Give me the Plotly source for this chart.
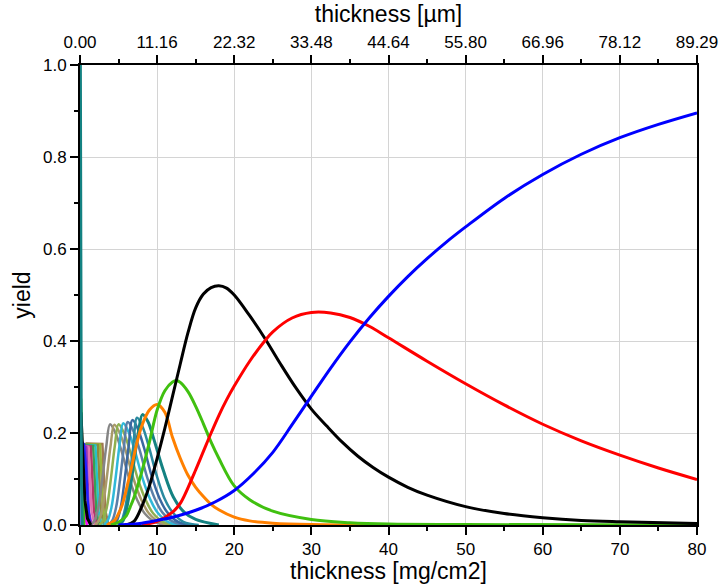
import plotly.graph_objects as go

# ---------------- data ----------------
BOTTOM_TICKS = [0, 10, 20, 30, 40, 50, 60, 70, 80]
TOP_TICK_LABELS = ["0.00", "11.16", "22.32", "33.48", "44.64", "55.80", "66.96", "78.12", "89.29"]
Y_TICKS = [0.0, 0.2, 0.4, 0.6, 0.8, 1.0]

BLUE_X = [5, 8, 10, 12, 15, 17.5, 20, 22.5, 25, 27.5, 30, 32.5, 35, 37.5, 40, 42.5, 45, 47.5, 50, 55, 60, 65, 70, 75, 80]
BLUE_Y = [0.0, 0.004, 0.01, 0.017, 0.032, 0.05, 0.075, 0.112, 0.158, 0.218, 0.28, 0.341, 0.398, 0.45, 0.497, 0.54, 0.579, 0.615, 0.648, 0.71, 0.762, 0.806, 0.842, 0.871, 0.896]

RED_X = [8, 10, 12, 13, 15, 16, 17, 18, 19, 20, 22, 24, 25, 27.5, 30, 32.5, 35, 37.5, 40, 45, 50, 55, 60, 65, 70, 75, 80]
RED_Y = [0.0, 0.008, 0.028, 0.047, 0.12, 0.16, 0.2, 0.238, 0.272, 0.302, 0.356, 0.401, 0.42, 0.45, 0.462, 0.461, 0.451, 0.432, 0.407, 0.356, 0.307, 0.261, 0.219, 0.183, 0.152, 0.124, 0.099]

BLACK_X = [6, 7, 8, 9, 10, 11, 12, 13, 14, 15, 16, 17, 18, 19, 20, 22, 24, 26, 28, 30, 32, 34, 36, 38, 40, 42.5, 45, 50, 55, 60, 65, 70, 80]
BLACK_Y = [0.0, 0.008, 0.04, 0.085, 0.145, 0.21, 0.28, 0.35, 0.418, 0.472, 0.502, 0.516, 0.52, 0.515, 0.5, 0.455, 0.405, 0.35, 0.298, 0.252, 0.215, 0.18, 0.15, 0.125, 0.104, 0.082, 0.065, 0.04, 0.025, 0.016, 0.01, 0.007, 0.003]

GREEN_X = [4, 5, 6, 6.5, 7, 8, 9, 10, 11, 12, 12.5, 13, 14, 15, 16, 17, 18, 20, 22, 25, 30, 35, 40, 50, 80]
GREEN_Y = [0.0, 0.006, 0.02, 0.039, 0.06, 0.115, 0.18, 0.25, 0.292, 0.311, 0.314, 0.31, 0.29, 0.258, 0.22, 0.18, 0.145, 0.085, 0.055, 0.03, 0.012, 0.005, 0.002, 0.001, 0.0]

ORANGE_X = [3.5, 4.5, 5, 5.5, 6.5, 7.36, 8, 9, 10, 11, 12, 13, 14, 15, 16, 17, 18, 20, 22, 25, 30, 40]
ORANGE_Y = [0.0, 0.01, 0.025, 0.045, 0.112, 0.177, 0.215, 0.25, 0.262, 0.245, 0.19, 0.145, 0.108, 0.082, 0.062, 0.045, 0.033, 0.017, 0.009, 0.004, 0.001, 0.0]

TEAL_X = [5.0, 5.6, 6.1, 6.6, 7.1, 7.6, 8.1, 8.8, 9.6, 10.8, 12.1, 13.5, 15.0, 18.0]
TEAL_Y = [0.0, 0.01, 0.04, 0.09, 0.15, 0.205, 0.24, 0.225, 0.185, 0.119, 0.061, 0.028, 0.012, 0.0]

# cluster of small peaks (left to right)
C1_X = [1.4, 1.9, 2.4, 2.9, 3.4, 3.9, 4.6, 5.4, 6.4, 7.4, 8.4, 9.9, 11.9]
C1_Y = [0.0, 0.01, 0.04, 0.10, 0.17, 0.219, 0.2, 0.16, 0.10, 0.055, 0.025, 0.005, 0.0]
C2_X = [1.95, 2.45, 2.95, 3.45, 3.95, 4.45, 5.15, 5.95, 6.95, 7.95, 8.95, 10.45, 12.45]
C2_Y = [0.0, 0.01, 0.04, 0.10, 0.17, 0.218, 0.2, 0.16, 0.10, 0.055, 0.025, 0.005, 0.0]
C3_X = [2.5, 3.0, 3.5, 4.0, 4.5, 5.0, 5.7, 6.5, 7.5, 8.5, 9.5, 11.0, 13.0]
C3_Y = [0.0, 0.01, 0.04, 0.10, 0.17, 0.219, 0.2, 0.16, 0.10, 0.055, 0.025, 0.005, 0.0]
C4_X = [3.1, 3.6, 4.1, 4.6, 5.1, 5.6, 6.3, 7.1, 8.1, 9.1, 10.1, 11.6, 13.6]
C4_Y = [0.0, 0.01, 0.04, 0.10, 0.17, 0.221, 0.202, 0.162, 0.102, 0.056, 0.026, 0.005, 0.0]
C5_X = [3.7, 4.2, 4.7, 5.2, 5.7, 6.2, 6.9, 7.7, 8.7, 9.7, 10.7, 12.2, 14.2]
C5_Y = [0.0, 0.01, 0.04, 0.10, 0.17, 0.224, 0.205, 0.165, 0.104, 0.057, 0.027, 0.006, 0.0]
C6_X = [4.3, 4.8, 5.3, 5.8, 6.3, 6.8, 7.5, 8.3, 9.3, 10.3, 11.3, 12.8, 14.8]
C6_Y = [0.0, 0.01, 0.04, 0.10, 0.17, 0.228, 0.209, 0.168, 0.106, 0.058, 0.028, 0.006, 0.0]
C7_X = [4.9, 5.4, 5.9, 6.4, 6.9, 7.4, 8.1, 8.9, 9.9, 10.9, 11.9, 13.4, 15.4]
C7_Y = [0.0, 0.01, 0.04, 0.10, 0.17, 0.233, 0.214, 0.172, 0.11, 0.06, 0.03, 0.007, 0.0]

# plateau curves near x = 0..3.5
P1_X = [0.22, 0.3, 0.5, 0.8, 1.0, 1.3]
P1_Y = [0.0, 0.18, 0.176, 0.12, 0.05, 0.0]
P2_X = [0.25, 0.35, 0.5, 0.6, 0.68, 0.9]
P2_Y = [0.0, 0.174, 0.172, 0.08, 0.02, 0.0]
P3_X = [0.28, 0.4, 0.8, 1.0, 1.15, 1.5]
P3_Y = [0.0, 0.172, 0.17, 0.09, 0.03, 0.0]
P4_X = [0.3, 0.45, 1.1, 1.35, 1.5, 1.9]
P4_Y = [0.0, 0.172, 0.17, 0.09, 0.03, 0.0]
P5_X = [0.3, 0.5, 1.4, 1.65, 1.8, 2.2]
P5_Y = [0.0, 0.172, 0.171, 0.09, 0.03, 0.0]
P6_X = [0.32, 0.55, 1.7, 1.95, 2.1, 2.5]
P6_Y = [0.0, 0.173, 0.172, 0.09, 0.03, 0.0]
P7_X = [0.35, 0.6, 2.0, 2.25, 2.4, 2.8]
P7_Y = [0.0, 0.174, 0.173, 0.09, 0.03, 0.0]
P8_X = [0.4, 0.7, 2.3, 2.55, 2.7, 3.1]
P8_Y = [0.0, 0.175, 0.174, 0.09, 0.03, 0.0]
P9_X = [0.45, 0.8, 2.6, 2.85, 3.0, 3.4]
P9_Y = [0.0, 0.176, 0.175, 0.09, 0.03, 0.0]
P10_X = [0.5, 0.9, 2.9, 3.15, 3.3, 3.7]
P10_Y = [0.0, 0.177, 0.176, 0.09, 0.03, 0.0]

# spikes at the origin
TSPIKE_X = [0.05, 0.08, 0.12, 0.18, 0.3]
TSPIKE_Y = [1.0, 0.6, 0.3, 0.1, 0.0]
GSPIKE_X = [0.1, 0.13, 0.18, 0.25, 0.35, 0.5]
GSPIKE_Y = [0.275, 0.26, 0.23, 0.15, 0.06, 0.0]
KSPIKE_X = [0.12, 0.17, 0.3, 0.41, 0.63, 0.97, 1.4]
KSPIKE_Y = [0.245, 0.228, 0.17, 0.126, 0.054, 0.014, 0.0]

# ---------------- figure ----------------
fig = go.Figure()

def add(x, y, color, width=3, shape="spline"):
    fig.add_trace(go.Scatter(x=x, y=y, mode="lines", showlegend=False,
                             line=dict(color=color, width=width, shape=shape, smoothing=1.0)))

plateau = [(P10_X, P10_Y, "#a07850"), (P9_X, P9_Y, "#9ab83a"), (P8_X, P8_Y, "#8c8c3c"),
           (P7_X, P7_Y, "#28c0c8"), (P6_X, P6_Y, "#3aa050"), (P5_X, P5_Y, "#b03868"),
           (P4_X, P4_Y, "#e070b0"), (P3_X, P3_Y, "#9030c0"), (P2_X, P2_Y, "#ff00ff"),
           (P1_X, P1_Y, "#2020ff")]
for x, y, c in plateau:
    add(x, y, c, 2.5, "linear")

cluster = [(C1_X, C1_Y, "#858585"), (C2_X, C2_Y, "#a89a6a"), (C3_X, C3_Y, "#8fb050"),
           (C4_X, C4_Y, "#30b8d8"), (C5_X, C5_Y, "#5a7fa8"), (C6_X, C6_Y, "#3a68a0"),
           (C7_X, C7_Y, "#2a8aa0")]
for x, y, c in cluster:
    add(x, y, c, 2.5)

add(TEAL_X, TEAL_Y, "#148282")
add(ORANGE_X, ORANGE_Y, "#ff8000")
add(GREEN_X, GREEN_Y, "#40c010")
add(BLACK_X, BLACK_Y, "#000000")
add(RED_X, RED_Y, "#ff0000")
add(BLUE_X, BLUE_Y, "#0000ff")
add(GSPIKE_X, GSPIKE_Y, "#40c010", 3, "linear")
add(KSPIKE_X, KSPIKE_Y, "#000000", 3, "linear")
add(TSPIKE_X, TSPIKE_Y, "#148282", 3, "linear")

# invisible trace to anchor the top axis
fig.add_trace(go.Scatter(x=[0, 80], y=[None, None], xaxis="x2", mode="lines",
                         showlegend=False, hoverinfo="skip"))

FONT = "Liberation Sans, Arial, sans-serif"
tickfont = dict(family=FONT, size=17, color="black")
titlefont = dict(family=FONT, size=23, color="black")

fig.update_layout(
    width=721, height=584,
    margin=dict(l=80, r=24, t=65, b=59),
    plot_bgcolor="white", paper_bgcolor="white",
    font=dict(family=FONT, color="black"),
    xaxis=dict(range=[0, 80], tickvals=BOTTOM_TICKS, ticks="outside", ticklen=8, tickwidth=1.5,
               tickcolor="black", showline=True, linecolor="black", linewidth=2,
               showgrid=True, gridcolor="#d4d4d4", gridwidth=1, zeroline=False, automargin=False,
               minor=dict(dtick=5, ticks="outside", ticklen=4, tickwidth=1.5, tickcolor="black", showgrid=False),
               tickfont=tickfont,
               title=dict(text="thickness [mg/cm2]", font=titlefont, standoff=4)),
    xaxis2=dict(range=[0, 80], overlaying="x", side="top", anchor="y",
                tickvals=BOTTOM_TICKS, ticktext=TOP_TICK_LABELS, automargin=False,
                ticks="outside", ticklen=8, tickwidth=1.5, tickcolor="black",
                showline=True, linecolor="black", linewidth=2, showgrid=False, zeroline=False,
                minor=dict(dtick=5, ticks="outside", ticklen=4, tickwidth=1.5, tickcolor="black", showgrid=False),
                tickfont=tickfont,
                title=dict(text="thickness [µm]", font=titlefont, standoff=4)),
    yaxis=dict(range=[0, 1], tickvals=Y_TICKS, tickformat=".1f", ticks="outside", ticklen=8, tickwidth=1.5,
               tickcolor="black", showline=True, linecolor="black", linewidth=2, mirror=True,
               showgrid=True, gridcolor="#d4d4d4", gridwidth=1, zeroline=False, automargin=False,
               minor=dict(dtick=0.1, ticks="outside", ticklen=4, tickwidth=1.5, tickcolor="black", showgrid=False),
               tickfont=tickfont,
               title=dict(text="yield", font=titlefont, standoff=6)),
)

fig.write_html("out.html")
